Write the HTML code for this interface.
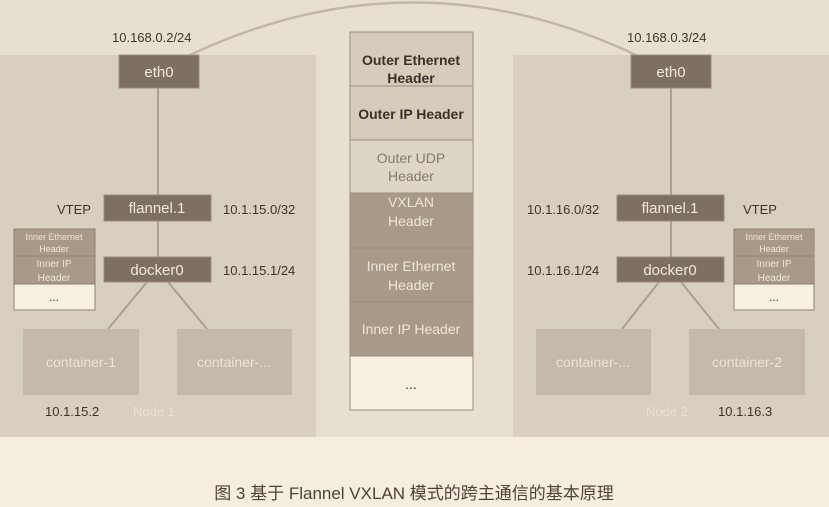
<!DOCTYPE html>
<html><head><meta charset="utf-8"><style>
html,body{margin:0;padding:0;background:#f5eedf;}
svg{display:block;font-family:"Liberation Sans","Noto Sans CJK SC",sans-serif;}
</style></head><body>
<svg width="829" height="507" viewBox="0 0 829 507">
<rect x="0" y="0" width="829" height="437" fill="#e8e0cf"/>
<rect x="0" y="437" width="829" height="70" fill="#f5eedf"/>
<rect x="0" y="55" width="316" height="382" fill="#d8cfbf"/>
<rect x="513" y="55" width="316" height="382" fill="#d8cfbf"/>
<path d="M190,55 Q413,-50 636,55" fill="none" stroke="#c2b7a6" stroke-width="2.5"/>
<g stroke="#ab9f8e" stroke-width="2" fill="none">
<line x1="158" y1="88" x2="158" y2="257"/>
<line x1="147" y1="282" x2="108" y2="329"/>
<line x1="168" y1="282" x2="207" y2="329"/>
<line x1="671" y1="88" x2="671" y2="257"/>
<line x1="659" y1="282" x2="622" y2="329"/>
<line x1="681" y1="282" x2="719" y2="329"/>
</g>
<g fill="#7e7060" stroke="#9a8e7e" stroke-width="1">
<rect x="119" y="55" width="80" height="33"/>
<rect x="104" y="195" width="107" height="26"/>
<rect x="104" y="257" width="107" height="25"/>
<rect x="631" y="55" width="80" height="33"/>
<rect x="617" y="195" width="107" height="26"/>
<rect x="617" y="257" width="107" height="25"/>
</g>
<g fill="#f0e8da" font-size="15" text-anchor="middle">
<text x="159" y="77">eth0</text>
<text x="157" y="213">flannel.1</text>
<text x="157" y="275">docker0</text>
<text x="671" y="77">eth0</text>
<text x="670" y="213">flannel.1</text>
<text x="670" y="275">docker0</text>
</g>
<g fill="#3e342b" font-size="13">
<text x="112" y="42">10.168.0.2/24</text>
<text x="627" y="42">10.168.0.3/24</text>
<text x="57" y="214">VTEP</text>
<text x="223" y="214">10.1.15.0/32</text>
<text x="223" y="275">10.1.15.1/24</text>
<text x="527" y="214">10.1.16.0/32</text>
<text x="743" y="214">VTEP</text>
<text x="527" y="275">10.1.16.1/24</text>
<text x="45" y="416">10.1.15.2</text>
<text x="718" y="416">10.1.16.3</text>
</g>
<g fill="#e9e1d2" font-size="13">
<text x="133" y="416">Node 1</text>
<text x="646" y="416">Node 2</text>
</g>
<g fill="#c5baa9">
<rect x="23" y="329" width="116" height="66"/>
<rect x="177" y="329" width="115" height="66"/>
<rect x="536" y="329" width="115" height="66"/>
<rect x="689" y="329" width="116" height="66"/>
</g>
<g fill="#ece4d6" font-size="14" text-anchor="middle">
<text x="81" y="367">container-1</text>
<text x="234" y="367">container-...</text>
<text x="593" y="367">container-...</text>
<text x="747" y="367">container-2</text>
</g>
<g stroke="#8e8272" stroke-width="1">
<rect x="14" y="229" width="81" height="27" fill="#a89a88"/>
<rect x="14" y="256" width="81" height="28" fill="#a89a88"/>
<rect x="14" y="284" width="81" height="26" fill="#f7f0e1"/>
<rect x="734" y="229" width="80" height="27" fill="#a89a88"/>
<rect x="734" y="256" width="80" height="28" fill="#a89a88"/>
<rect x="734" y="284" width="80" height="26" fill="#f7f0e1"/>
</g>
<g fill="#efe7d8" font-size="9" text-anchor="middle">
<text x="54" y="240">Inner Ethernet</text>
<text x="54" y="252">Header</text>
<text x="54" y="267" font-size="10">Inner IP</text>
<text x="54" y="281" font-size="10">Header</text>
<text x="774" y="240">Inner Ethernet</text>
<text x="774" y="252">Header</text>
<text x="774" y="267" font-size="10">Inner IP</text>
<text x="774" y="281" font-size="10">Header</text>
</g>
<g fill="#3e342b" font-size="12" text-anchor="middle">
<text x="54" y="301">...</text>
<text x="774" y="301">...</text>
</g>
<g stroke="#9a8e7e" stroke-width="1">
<rect x="350" y="32" width="123" height="54" fill="#d5ccbb"/>
<rect x="350" y="86" width="123" height="54" fill="#d5ccbb"/>
<rect x="350" y="140" width="123" height="53" fill="#ddd5c6"/>
<rect x="350" y="193" width="123" height="55" fill="#a89a88"/>
<rect x="350" y="248" width="123" height="54" fill="#a89a88"/>
<rect x="350" y="302" width="123" height="54" fill="#a89a88"/>
<rect x="350" y="356" width="123" height="54" fill="#f7f0e1"/>
</g>
<g font-size="14" text-anchor="middle">
<text x="411" y="65" fill="#3a3028" font-weight="bold">Outer Ethernet</text>
<text x="411" y="83" fill="#3a3028" font-weight="bold">Header</text>
<text x="411" y="119" fill="#3a3028" font-weight="bold">Outer IP Header</text>
<text x="411" y="163" fill="#857a6c">Outer UDP</text>
<text x="411" y="181" fill="#857a6c">Header</text>
<text x="411" y="207" fill="#efe7d8">VXLAN</text>
<text x="411" y="226" fill="#efe7d8">Header</text>
<text x="411" y="271" fill="#efe7d8">Inner Ethernet</text>
<text x="411" y="290" fill="#efe7d8">Header</text>
<text x="411" y="334" fill="#efe7d8">Inner IP Header</text>
<text x="411" y="389" fill="#3a3028">...</text>
</g>
<text x="414" y="499" font-size="17" text-anchor="middle" fill="#4e4238">图 3 基于 Flannel VXLAN 模式的跨主通信的基本原理</text>
</svg>
</body></html>
